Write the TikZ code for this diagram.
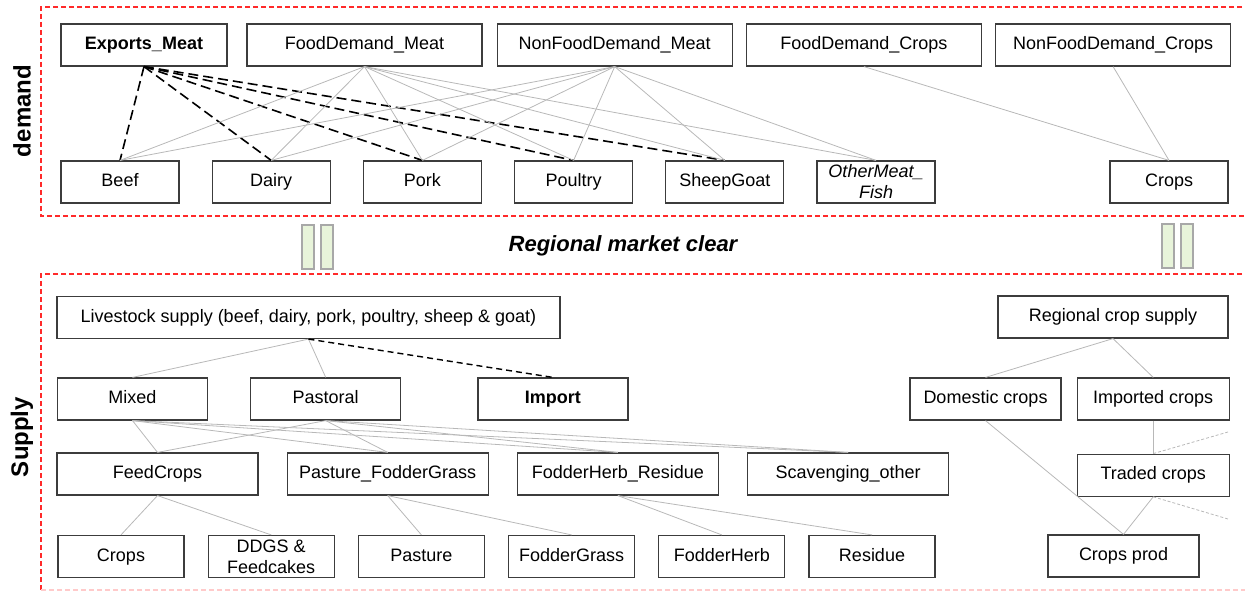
\documentclass[tikz,border=0pt]{standalone}
\usepackage{fontspec}
\setmainfont{Liberation Sans}
\usepackage{xcolor}
\usepackage{tikz}
\usetikzlibrary{positioning}
\definecolor{FrameRed}{HTML}{FF2A2A}
\definecolor{BarGreen}{HTML}{E8F4DA}
\definecolor{BarGray}{HTML}{A8A8A8}
\definecolor{LinkGray}{HTML}{B8B8B8}
\definecolor{BoxInk}{HTML}{3C3C3C}
\tikzset{
  link/.style={draw=LinkGray,line width=0.4pt},
  exportlink/.style={draw=black,line width=0.8pt,dash pattern=on 5pt off 2.5pt},
  importlink/.style={draw=black,line width=0.7pt,dash pattern=on 3pt off 2pt},
  tradelink/.style={draw=LinkGray,line width=0.4pt,dash pattern=on 1.5pt off 1pt},
  regionframe/.style={draw=FrameRed,line width=0.7pt,dash pattern=on 2.5pt off 1.5pt},
  box/.style={draw=BoxInk,line width=0.6pt,fill=white,align=center,
    minimum height=21pt,inner sep=1pt,text height=6.6pt,text depth=1.9pt,
    font=\fontsize{9}{10.5}\selectfont},
  twoline/.style={text height={},text depth={}},
  boldbox/.style={box,font=\fontsize{9}{10.5}\selectfont\bfseries},
  headbox/.style={box,minimum width=117.5pt},
  meatbox/.style={box,minimum width=59pt},
  sourcebox/.style={box,minimum width=75pt},
  feedbox/.style={box,minimum width=100.5pt},
  itembox/.style={box,minimum width=63pt},
  sidelabel/.style={rotate=90,font=\fontsize{12}{14}\selectfont\bfseries},
  cleartext/.style={font=\fontsize{11}{13}\selectfont\bfseries\itshape},
  clearbar/.style={draw=BarGray,fill=BarGreen,line width=1pt,
    minimum width=6pt,minimum height=22pt,inner sep=0pt}
}
\begin{document}
\begin{tikzpicture}[x=0.5pt,y=-0.5pt,node distance=16pt]
  \useasboundingbox (0,0) rectangle (1245,592);
  % region frames
  \draw[regionframe] (1250,7) -- (41,7) -- (41,216) -- (1250,216);
  \draw[regionframe] (1250,274) -- (41,274) -- (41,590);
  \draw[regionframe,draw=FrameRed!25] (41,590) -- (1250,590);
  \node[sidelabel] (demandlabel) at (22,111) {demand};
  \node[sidelabel] (supplylabel) at (22,437) {Supply};

  % demand
  \node[boldbox,minimum width=83pt] (exports) at (144,45) {Exports\_Meat};
  \node[headbox] (foodmeat) at (364.5,45) {FoodDemand\_Meat};
  \node[headbox,right=7pt of foodmeat] (nonfoodmeat) {NonFoodDemand\_Meat};
  \node[headbox,right=6.5pt of nonfoodmeat] (foodcrops) {FoodDemand\_Crops};
  \node[headbox,right=6.5pt of foodcrops] (nonfoodcrops) {NonFoodDemand\_Crops};
  \node[meatbox] (beef) at (120,182) {Beef};
  \node[meatbox,right=of beef] (dairy) {Dairy};
  \node[meatbox,right=of dairy] (pork) {Pork};
  \node[meatbox,right=of pork] (poultry) {Poultry};
  \node[meatbox,right=of poultry] (sheepgoat) {SheepGoat};
  \node[meatbox,twoline,right=of sheepgoat,font=\fontsize{9}{10.5}\selectfont\itshape] (othermeat) {OtherMeat\_\\Fish};
  \node[meatbox] (cropsdem) at (1169,182) {Crops};
  \foreach \m in {beef,dairy,pork,poultry,sheepgoat}
    \draw[exportlink] (exports.south) -- (\m.north);
  \foreach \d in {foodmeat,nonfoodmeat}
    \foreach \m in {beef,dairy,pork,poultry,sheepgoat,othermeat}
      \draw[link] (\d.south) -- (\m.north);
  \draw[link] (foodcrops.south) -- (cropsdem.north);
  \draw[link] (nonfoodcrops.south) -- (cropsdem.north);

  % market clearing
  \node[cleartext] (marketclear) at (623,246) {Regional market clear};
  \node[clearbar] (clearLa) at (308,247.5) {};
  \node[clearbar,right=2.5pt of clearLa] (clearLb) {};
  \node[clearbar] (clearRa) at (1167.5,246) {};
  \node[clearbar,right=2.5pt of clearRa] (clearRb) {};

  % livestock supply
  \node[box,minimum width=251.5pt] (livestock) at (308.5,317.5) {Livestock supply (beef, dairy, pork, poultry, sheep \& goat)};
  \node[sourcebox] (mixed) at (132.5,399) {Mixed};
  \node[sourcebox,right=21pt of mixed] (pastoral) {Pastoral};
  \node[sourcebox,right=38pt of pastoral,font=\fontsize{9}{10.5}\selectfont\bfseries] (import) {Import};
  \node[feedbox] (feedcrops) at (157.5,474) {FeedCrops};
  \node[feedbox,right=14pt of feedcrops] (pasturefg) {Pasture\_FodderGrass};
  \node[feedbox,right=14pt of pasturefg] (fodderres) {FodderHerb\_Residue};
  \node[feedbox,right=14pt of fodderres] (scavenging) {Scavenging\_other};
  \node[itembox] (cropsfeed) at (121,556.5) {Crops};
  \node[itembox,twoline,right=11.5pt of cropsfeed] (ddgs) {DDGS \&\\Feedcakes};
  \node[itembox,right=11.5pt of ddgs] (pasture) {Pasture};
  \node[itembox,right=11.5pt of pasture] (foddergrass) {FodderGrass};
  \node[itembox,right=11.5pt of foddergrass] (fodderherb) {FodderHerb};
  \node[itembox,right=11.5pt of fodderherb] (residue) {Residue};
  \draw[link] (livestock.south) -- (mixed.north);
  \draw[link] (livestock.south) -- (pastoral.north);
  \draw[importlink] (livestock.south) -- (import.north);
  \foreach \s in {mixed,pastoral}
    \foreach \f in {feedcrops,pasturefg,fodderres,scavenging}
      \draw[link] (\s.south) -- (\f.north);
  \draw[link] (feedcrops.south) -- (cropsfeed.north);
  \draw[link] (feedcrops.south) -- (ddgs.north);
  \draw[link] (pasturefg.south) -- (pasture.north);
  \draw[link] (pasturefg.south) -- (foddergrass.north);
  \draw[link] (fodderres.south) -- (fodderherb.north);
  \draw[link] (fodderres.south) -- (residue.north);

  % crop supply
  \node[box,minimum width=115pt] (regcrop) at (1113,317) {Regional crop supply};
  \node[box,minimum width=75.5pt] (domestic) at (985.5,399) {Domestic crops};
  \node[box,minimum width=76pt,right=7.5pt of domestic] (imported) {Imported crops};
  \node[box,minimum width=76pt,below=16.5pt of imported] (traded) {Traded crops};
  \node[box,minimum width=75.5pt] (cropsprod) at (1123.5,556) {Crops prod};
  \coordinate (tradeoutN) at (1228,432);
  \coordinate (tradeoutS) at (1228,519);
  \draw[link] (regcrop.south) -- (domestic.north);
  \draw[link] (regcrop.south) -- (imported.north);
  \draw[link] (domestic.south) -- (cropsprod.north);
  \draw[link] (imported.south) -- (traded.north);
  \draw[link] (traded.south) -- (cropsprod.north);
  \draw[tradelink] (traded.north) -- (tradeoutN);
  \draw[tradelink] (traded.south) -- (tradeoutS);
\end{tikzpicture}
\end{document}
